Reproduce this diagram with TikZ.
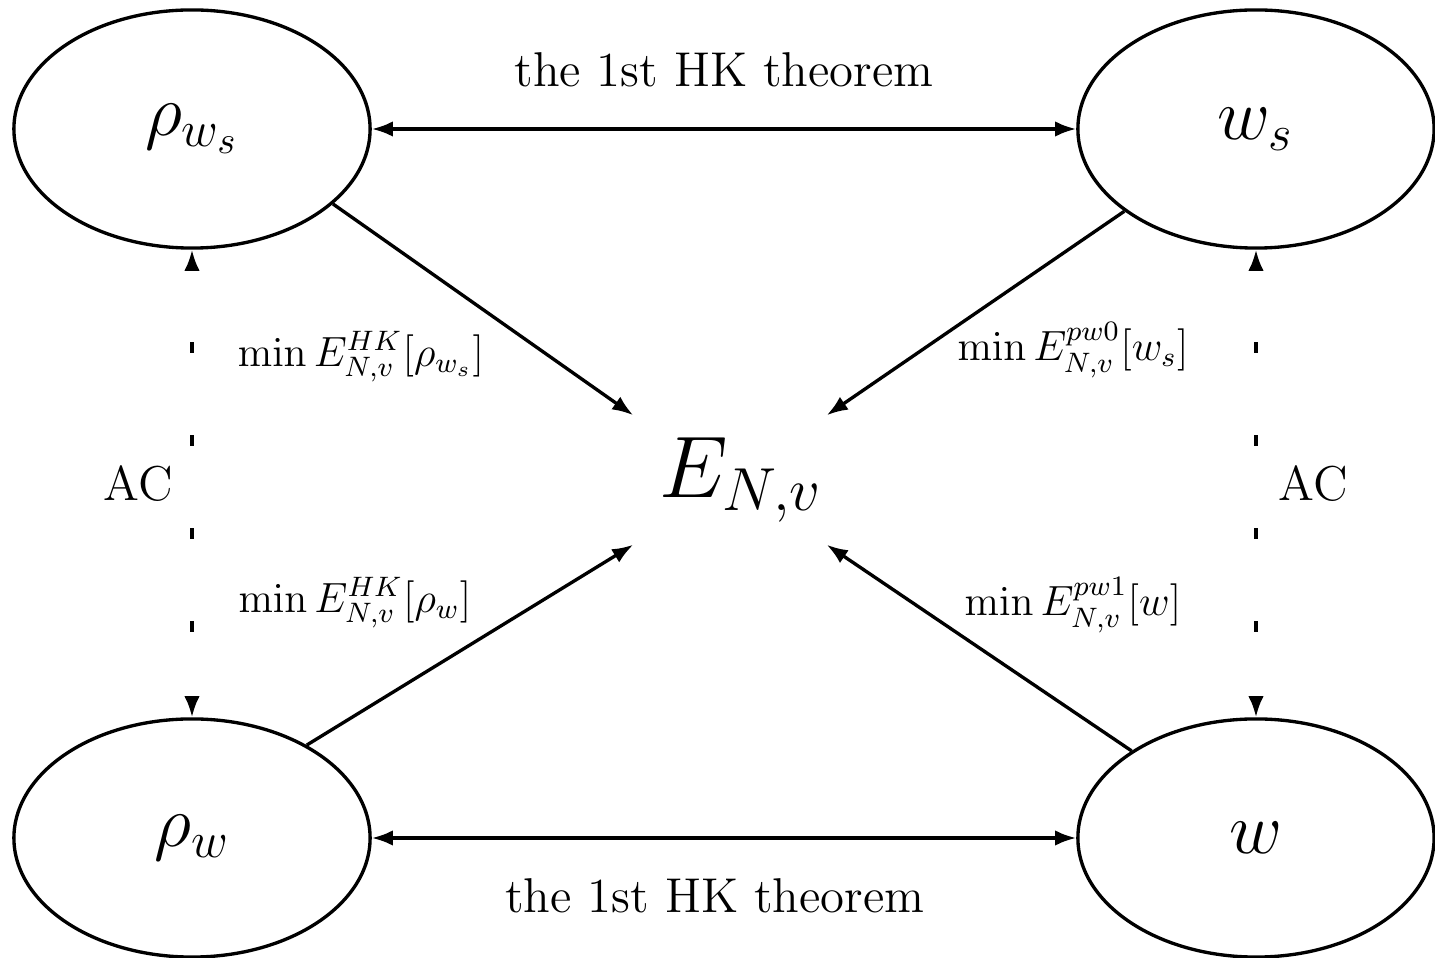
\documentclass[tikz,border=0pt]{standalone}
\usepackage{amsmath,amssymb}
\usepackage{tikz}
\usetikzlibrary{arrows.meta,positioning,shapes.geometric}
\tikzset{
  flow/.style={-{Latex[length=6pt,width=4.4pt]}, line width=0.95pt},
  link/.style={{Latex[length=6pt,width=4.4pt]}-{Latex[length=6pt,width=4.4pt]}, line width=0.95pt},
  acflow/.style={link, dash pattern=on 0.11cm off 0.82cm, dash phase=0.2cm},
  statebox/.style={ellipse, draw, line width=0.95pt, minimum width=3.56cm, minimum height=2.38cm, inner sep=0pt, font=\fontsize{22}{26}\selectfont},
  energybox/.style={minimum width=1.92cm, minimum height=1.28cm, inner sep=0pt, font=\fontsize{24.7}{29}\selectfont},
  thmlabel/.style={font=\fontsize{13.9}{16}\selectfont},
  minlabel/.style={font=\fontsize{12}{14}\selectfont}
}
\begin{document}
\begin{tikzpicture}[x=0.01cm, y=-0.01cm]
  \useasboundingbox (0,0) rectangle (1435,958);
  \node[statebox] (rhows) at (192,129) {$\rho_{w_s}$};
  \node[statebox] (ws) at (1256,129) {$w_s$};
  \node[statebox] (rhow) at (192,838) {$\rho_w$};
  \node[statebox] (w) at (1256,838) {$w$};
  \node[energybox] (E) at (730,480) {\hspace{0.22cm}$E_{N,v}$};
  \draw[link] (rhows) -- (ws) node[thmlabel, midway, above=0.29cm] {the 1st HK theorem};
  \draw[link] (rhow) -- (w) node[thmlabel, pos=0.487, below=0.27cm] {the 1st HK theorem};
  \draw[acflow] (rhows) -- (rhow) node[thmlabel, midway, left=0.06cm] {AC};
  \draw[acflow] (ws) -- (w) node[thmlabel, midway, right=0.09cm] {AC};
  \draw[flow] (rhows.-28) -- (E.north west);
  \draw[flow] (ws.-148) -- (E.north east);
  \draw[flow] (rhow.39) -- (E.south west);
  \draw[flow] (w.145) -- (E.south east);
  \node[minlabel] (hkws) at (361,357) {$\min E^{HK}_{N,v}[\rho_{w_s}]$};
  \node[minlabel] (pwzero) at (1073,350) {$\min E^{pw0}_{N,v}[w_s]$};
  \node[minlabel] (hkw) at (355,603) {$\min E^{HK}_{N,v}[\rho_w]$};
  \node[minlabel] (pwone) at (1073,605) {$\min E^{pw1}_{N,v}[w]$};
\end{tikzpicture}
\end{document}
